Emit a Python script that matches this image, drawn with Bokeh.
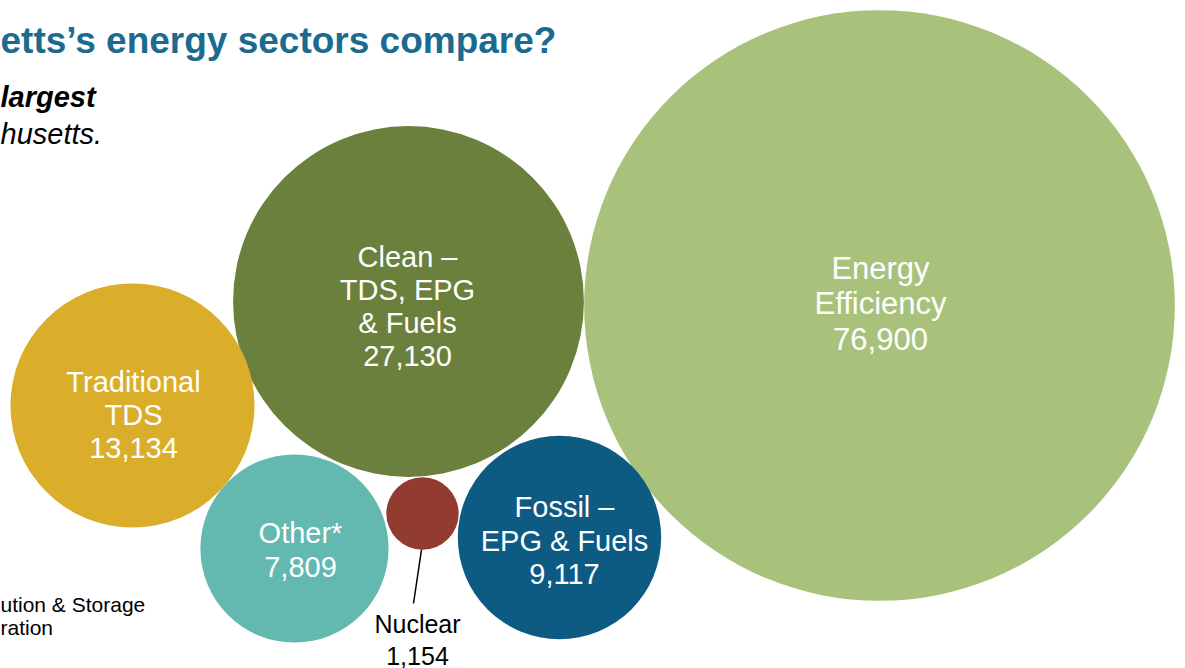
from bokeh.plotting import figure
from bokeh.models import Range1d, ColumnDataSource
from bokeh.core.properties import value
from bokeh.embed import file_html
from bokeh.resources import INLINE
import math

# ---- data ----
sectors = ["Energy\nEfficiency", "Clean –\nTDS, EPG\n& Fuels", "Traditional\nTDS",
           "Other*", "Fossil –\nEPG & Fuels", "Nuclear"]
jobs = [76900, 27130, 13134, 7809, 9117, 1154]

title_text = "etts\u2019s energy sectors compare?"
subtitle_bold = "largest"
subtitle_plain = "husetts."
note_lines = ["ution & Storage", "ration"]

# ---- layout / style (pixel space of the picture) ----
colors = ["#A8C27C", "#6A803C", "#DAAE2A", "#63B9B0", "#0D5A82", "#923B30"]
cx = [879, 408, 132, 294, 559, 422]
cy = [305, 301, 405, 548, 537, 513]
lab_x = [880, 407, 133, 300, 564, 417]
lab_y = [303, 306, 414, 549, 540, 639]
lab_size = [31, 29, 29, 29, 29, 25]
lab_lh = [35.5, 33.3, 33, 34, 33.5, 32]
lab_color = ["white", "white", "white", "white", "white", "black"]
K = 1.065  # px per sqrt(job)

W, H = 1185, 668
p = figure(width=W, height=H, output_backend="svg", toolbar_location=None,
           x_range=Range1d(0, W), y_range=Range1d(H, 0),
           min_border=0, outline_line_color=None, background_fill_color="white")
p.axis.visible = False
p.grid.visible = False

radii = [K * math.sqrt(v) for v in jobs]
p.circle(x="x", y="y", radius="r", fill_color="c", line_color=None,
         source=ColumnDataSource(dict(x=cx, y=cy, r=radii, c=colors)))

# labels
tx, ty, tt, ts, tc = [], [], [], [], []
for i, (name, v) in enumerate(zip(sectors, jobs)):
    lines = name.split("\n") + [f"{v:,}"]
    n = len(lines)
    for j, ln in enumerate(lines):
        tx.append(lab_x[i])
        ty.append(lab_y[i] + (j - (n - 1) / 2) * lab_lh[i])
        tt.append(ln)
        ts.append(f"{lab_size[i]}px")
        tc.append(lab_color[i])
p.text(x="x", y="y", text="t", text_font_size="s", text_color="c",
       text_font=value("Liberation Sans"), text_align="center", text_baseline="middle",
       source=ColumnDataSource(dict(x=tx, y=ty, t=tt, s=ts, c=tc)))

# nuclear leader line
ni = 5
p.segment(x0=[cx[ni] - 1], y0=[cy[ni] + radii[ni]], x1=[413], y1=[603],
          line_color="black", line_width=1.5)

# title and subtitle
p.text(x=[0], y=[40], text=[title_text], text_font=value("Liberation Sans"),
       text_font_size="37px", text_font_style="bold", text_color="#1B6A8F",
       text_align="left", text_baseline="middle")
p.text(x=[0], y=[96], text=[subtitle_bold], text_font=value("Liberation Sans"),
       text_font_size="29px", text_font_style="bold italic", text_color="black",
       text_align="left", text_baseline="middle")
p.text(x=[0], y=[133], text=[subtitle_plain], text_font=value("Liberation Sans"),
       text_font_size="29px", text_font_style="italic", text_color="black",
       text_align="left", text_baseline="middle")
p.text(x=[0, 0], y=[604, 627], text=note_lines, text_font=value("Liberation Sans"),
       text_font_size="21px", text_color="black",
       text_align="left", text_baseline="middle")

open("out.html", "w").write(file_html(p, INLINE))
